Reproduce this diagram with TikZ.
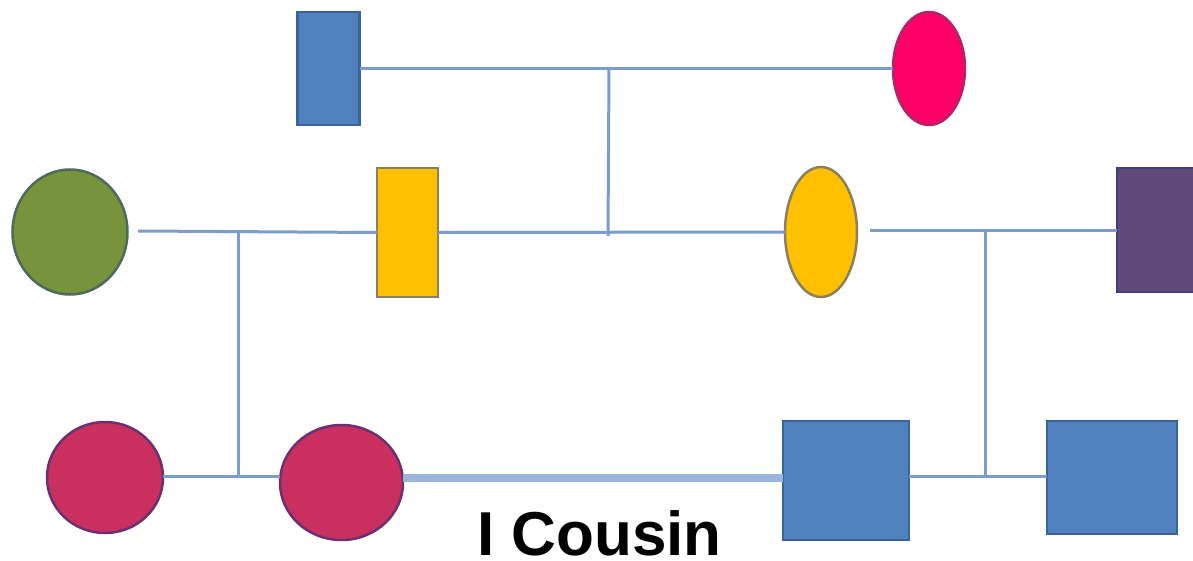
\documentclass[tikz,border=0pt]{standalone}
\usepackage{fontspec}
\setmainfont{Liberation Sans}
\usetikzlibrary{shapes.geometric}
\definecolor{lnblue}{HTML}{7B9DCE}
\definecolor{thkblue}{HTML}{9BB5DA}
\definecolor{bfill}{HTML}{4F81BD}
\definecolor{bdraw}{HTML}{3A62A0}
\definecolor{pinkf}{HTML}{FF0066}
\definecolor{pinkd}{HTML}{B0246A}
\definecolor{greenf}{HTML}{77933C}
\definecolor{greend}{HTML}{4E6A5A}
\definecolor{yellf}{HTML}{FFC000}
\definecolor{yelld}{HTML}{8A8060}
\definecolor{purpf}{HTML}{604A7B}
\definecolor{purpd}{HTML}{3F3F80}
\definecolor{crimf}{HTML}{C9305F}
\definecolor{crimd}{HTML}{6A3070}
\tikzset{
  shp/.style={inner sep=0pt, outer sep=0pt, line width=2.5pt},
  oval/.style={shp, ellipse},
  link/.style={draw=lnblue, line width=3pt},
  thick link/.style={draw=thkblue, line width=8pt},
  lbl/.style={font=\fontsize{62}{70}\selectfont\bfseries, inner sep=0pt}
}
\begin{document}
\begin{tikzpicture}[x=1pt,y=-1pt]
\useasboundingbox (0,0) rectangle (1193,561);
% top generation
\node[shp, rectangle, minimum width=62pt, minimum height=113pt, fill=bfill, draw=bdraw] (gf) at (328.5,68.5) {};
\node[oval, minimum width=72pt, minimum height=113pt, fill=pinkf, draw=pinkd] (gm) at (929,68.5) {};
% middle generation
\node[oval, minimum width=115pt, minimum height=125pt, fill=greenf, draw=greend] (ga) at (70,232) {};
\node[shp, rectangle, minimum width=61pt, minimum height=129pt, fill=yellf, draw=yelld] (ya) at (407.5,232.5) {};
\node[oval, minimum width=72pt, minimum height=130pt, fill=yellf, draw=yelld] (yb) at (821,232) {};
\node[shp, rectangle, minimum width=84pt, minimum height=124pt, fill=purpf, draw=purpd] (pu) at (1159,230) {};
% bottom generation
\node[oval, minimum width=116pt, minimum height=111pt, fill=crimf, draw=crimd] (c1) at (105,477.5) {};
\node[oval, minimum width=123pt, minimum height=115pt, fill=crimf, draw=crimd] (c2) at (341.5,482.5) {};
\node[shp, rectangle, minimum width=126pt, minimum height=119pt, fill=bfill, draw=bdraw] (s1) at (846,480.5) {};
\node[shp, rectangle, minimum width=130pt, minimum height=113pt, fill=bfill, draw=bdraw] (s2) at (1112,477.5) {};
% helper coordinates
\coordinate (ls) at (138,231);
\coordinate (rs) at (870,231);
\coordinate (tm) at (609,68);
\coordinate (mm) at (608,236);
\coordinate (lm) at (238,232);
\coordinate (lb) at (238,476);
\coordinate (rm) at (985,231);
\coordinate (rb) at (985,476);
% connectors
\draw[link] (gf.east) -- (gm.west);
\draw[link] (tm) -- (mm);
\draw[link] (ya.east) -- (yb.west);
\draw[link] (ls) -- (ya.west);
\draw[link] (lm) -- (lb);
\draw[link] (c1.east |- lb) -- (c2.west |- lb);
\draw[thick link] (c2.east |- 0,478) -- (s1.west |- 0,478);
\draw[link] (rs) -- (pu.west |- rs);
\draw[link] (rm) -- (rb);
\draw[link] (s1.east |- rb) -- (s2.west |- rb);
\node[lbl, anchor=base] (t) at (599.5,555) {I Cousin};
\end{tikzpicture}
\end{document}
